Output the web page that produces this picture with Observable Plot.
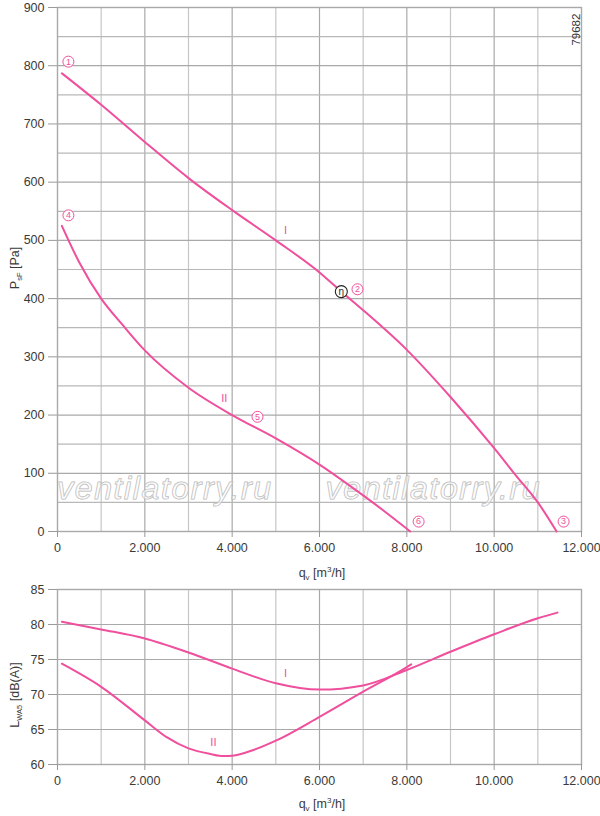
<!DOCTYPE html>
<html>
<head>
<meta charset="utf-8">
<script src="https://cdn.jsdelivr.net/npm/d3@7"></script>
<script src="https://cdn.jsdelivr.net/npm/@observablehq/plot@0.6"></script>
<style>
  html, body { margin: 0; padding: 0; background: #fff; }
  #wrap { position: relative; width: 600px; height: 816px; }
  #upper, #lower { position: absolute; left: 0; }
  #upper { top: 0; }
  #lower { top: 580px; }
  svg { overflow: visible; }
</style>
</head>
<body>
<div id="wrap"><div id="upper"></div><div id="lower"></div></div>
<script>
// ---- data ----
const qTicks = [0, 2000, 4000, 6000, 8000, 10000, 12000];
const qGrid = [1000, 2000, 3000, 4000, 5000, 6000, 7000, 8000, 9000, 10000, 11000];
const pTicks = [0, 100, 200, 300, 400, 500, 600, 700, 800, 900];
const pGrid = [50, 100, 150, 200, 250, 300, 350, 400, 450, 500, 550, 600, 650, 700, 750, 800, 850];
const lTicks = [60, 65, 70, 75, 80, 85];

// pressure curve I
const qPI = [100, 1000, 2000, 3000, 4000, 5000, 6000, 6500, 7000, 8000, 9000, 10000, 10500, 11000, 11430];
const pPI = [787, 733, 669, 607, 552, 500, 445, 412, 380, 312, 231, 143, 96, 50, 0];
// pressure curve II
const qPII = [100, 500, 1000, 1500, 2000, 3000, 4000, 5000, 6000, 7000, 7500, 8080];
const pPII = [525, 462, 400, 354, 311, 247, 200, 160, 115, 62, 34, 0];
// sound curve I
const qLI = [100, 1000, 2000, 3000, 4000, 5000, 6000, 7000, 8000, 9000, 10000, 11000, 11450];
const lLI = [80.4, 79.3, 78.0, 76.0, 73.7, 71.6, 70.7, 71.3, 73.5, 76.1, 78.6, 80.9, 81.7];
// sound curve II
const qLII = [100, 1000, 2000, 2500, 3000, 3500, 3800, 4000, 4500, 5000, 6000, 7000, 8000, 8100];
const lLII = [74.4, 71.1, 66.3, 63.9, 62.3, 61.5, 61.2, 61.25, 62.1, 63.4, 66.8, 70.4, 73.9, 74.3];

// circled point labels (upper chart)
const ptNames = ["1", "4", "2", "5", "6", "3"];
const ptQ = [250, 250, 6870, 4580, 8270, 11590];
const ptP = [807, 543, 416, 197, 17, 17];
// efficiency mark
const etaQ = [6500];
const etaP = [412];
// curve name labels
const curveNames = ["I", "II"];
const curveLabelQ = [5220, 3820];
const curveLabelP = [517, 228];
const curveLabelQs = [5220, 3570];
const curveLabelL = [73.0, 63.2];
// watermark
const wmText = "ventilatorry.ru";
const wmQ = [2460, 8610];
const wmP = [73, 73];
// drawing number
const drawingNo = "79682";

const pink = "#ef4f9c";
const fmt = d => d3.format(",")(d).replace(/,/g, ".");
const zip = (xs, ys) => xs.map((x, i) => ({x, y: ys[i]}));

const font = "'Liberation Sans', Arial, sans-serif";
const W = 600;

// ---------- upper chart ----------
const upperChart = Plot.plot({
  width: W, height: 580,
  marginLeft: 57, marginRight: 19, marginTop: 7, marginBottom: 49,
  style: {fontFamily: font, fontSize: "12.5px", color: "#3a3a3a", background: "#fff", overflow: "visible"},
  x: {domain: [0, 12000]},
  y: {domain: [0, 900]},
  marks: [
    Plot.ruleX(qGrid, {stroke: d => d % 2000 === 0 ? "#a9a9a9" : "#c6c6c6", strokeWidth: 1.2}),
    Plot.ruleY(pGrid, {stroke: d => d % 100 === 0 ? "#a9a9a9" : "#b8b8b8", strokeWidth: 1.2}),
    Plot.frame({stroke: "#a9a9a9", strokeWidth: 1.4}),
    Plot.axisX({ticks: qTicks, tickFormat: fmt, tickSize: 6, tickPadding: 6, label: null, stroke: "#999", fill: "#3a3a3a"}),
    Plot.axisY({ticks: pTicks, tickSize: 9, tickPadding: 4, label: null, stroke: "#999", fill: "#3a3a3a"}),
    Plot.text(wmQ, {x: d => d, y: (d, i) => wmP[i], text: () => wmText, fontSize: 32, fontStyle: "italic",
      fill: "white", fillOpacity: 0.5, stroke: "#b5b5b5", strokeWidth: 1, fontFamily: font}),
    Plot.line(zip(qPI, pPI), {x: "x", y: "y", stroke: pink, strokeWidth: 2, curve: "monotone-x"}),
    Plot.line(zip(qPII, pPII), {x: "x", y: "y", stroke: pink, strokeWidth: 2, curve: "monotone-x"}),
    Plot.dot(ptNames, {x: (d, i) => ptQ[i], y: (d, i) => ptP[i], r: 5.5, stroke: pink, strokeWidth: 1, fill: "white"}),
    Plot.text(ptNames, {x: (d, i) => ptQ[i], y: (d, i) => ptP[i], text: d => d, fill: pink, fontSize: 9}),
    Plot.dot(etaQ, {x: d => d, y: (d, i) => etaP[i], r: 6, stroke: "#222", strokeWidth: 1.1, fill: "white"}),
    Plot.text(etaQ, {x: d => d, y: (d, i) => etaP[i], text: () => "η", fill: "#222", fontSize: 10}),
    Plot.text(curveNames, {x: (d, i) => curveLabelQ[i], y: (d, i) => curveLabelP[i], text: d => d, fill: pink, fontSize: 11}),
    Plot.text([drawingNo], {x: () => 11870, y: () => 862, text: d => d, rotate: -90, fill: "#333", fontSize: 11.5})
  ]
});
document.getElementById("upper").appendChild(upperChart);
// widen the watermark lettering
d3.select(upperChart).selectAll("text").filter(function () { return this.textContent === wmText; })
  .attr("letter-spacing", "1.6px");

// ---------- lower chart ----------
const lowerChart = Plot.plot({
  width: W, height: 236,
  marginLeft: 57, marginRight: 19, marginTop: 9, marginBottom: 52,
  style: {fontFamily: font, fontSize: "12.5px", color: "#3a3a3a", background: "#fff", overflow: "visible"},
  x: {domain: [0, 12000]},
  y: {domain: [60, 85]},
  marks: [
    Plot.ruleX(qGrid, {stroke: d => d % 2000 === 0 ? "#a9a9a9" : "#c6c6c6", strokeWidth: 1.2}),
    Plot.ruleY(lTicks.slice(1, -1), {stroke: "#a9a9a9", strokeWidth: 1.2}),
    Plot.frame({stroke: "#a9a9a9", strokeWidth: 1.4}),
    Plot.axisX({ticks: qTicks, tickFormat: fmt, tickSize: 6, tickPadding: 6, label: null, stroke: "#999", fill: "#3a3a3a"}),
    Plot.axisY({ticks: lTicks, tickSize: 9, tickPadding: 4, label: null, stroke: "#999", fill: "#3a3a3a"}),
    Plot.line(zip(qLI, lLI), {x: "x", y: "y", stroke: pink, strokeWidth: 2, curve: "monotone-x"}),
    Plot.line(zip(qLII, lLII), {x: "x", y: "y", stroke: pink, strokeWidth: 2, curve: "monotone-x"}),
    Plot.text(curveNames, {x: (d, i) => curveLabelQs[i], y: (d, i) => curveLabelL[i], text: d => d, fill: pink, fontSize: 11})
  ]
});
document.getElementById("lower").appendChild(lowerChart);

// ---------- axis titles with sub/superscripts ----------
function xTitle(svg, y) {
  const t = d3.select(svg).append("text")
    .attr("x", 322).attr("y", y).attr("text-anchor", "middle")
    .attr("font-family", font).attr("font-size", 12.5).attr("fill", "#3a3a3a");
  t.append("tspan").text("q");
  t.append("tspan").attr("font-size", 8).attr("dy", 3).text("v");
  t.append("tspan").attr("dy", -3).text(" [m");
  t.append("tspan").attr("font-size", 8).attr("dy", -5).text("3");
  t.append("tspan").attr("dy", 5).text("/h]");
}
function yTitle(svg, cy, main, sub, rest) {
  const t = d3.select(svg).append("text")
    .attr("transform", `translate(19,${cy}) rotate(-90)`).attr("text-anchor", "middle")
    .attr("font-family", font).attr("font-size", 12.5).attr("fill", "#3a3a3a");
  t.append("tspan").text(main);
  t.append("tspan").attr("font-size", 7.5).attr("dy", 3).text(sub);
  t.append("tspan").attr("dy", -3).text(rest);
}
xTitle(upperChart, 577);
xTitle(lowerChart, 228);
yTitle(upperChart, 268, "P", "sF", " [Pa]");
yTitle(lowerChart, 115, "L", "WA5", " [dB(A)]");
</script>
</body>
</html>
